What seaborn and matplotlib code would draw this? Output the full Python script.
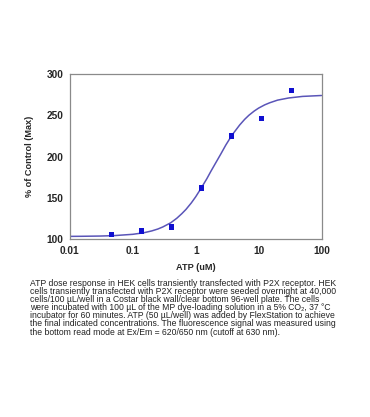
import numpy as np
import pandas as pd
import matplotlib
matplotlib.use("Agg")
import matplotlib.pyplot as plt
import seaborn as sns
from matplotlib.ticker import LogLocator, NullFormatter, MultipleLocator

# measured points
atp_conc = [0.0457, 0.137, 0.41, 1.23, 3.7, 11.1, 33.3]
pct_control = [106, 110, 115, 162, 225, 246, 280]

# fitted curve
curve_x = [0.01, 0.015, 0.03, 0.05, 0.1, 0.15, 0.2, 0.25, 0.3, 0.4, 0.5, 0.6, 0.7,
           0.85, 1.0, 1.2, 1.5, 1.75, 2.0, 2.5, 3.0, 3.5, 4.0, 5.0, 6.0, 7.0,
           8.5, 10, 12.5, 15, 20, 30, 50, 100]
curve_y = [103.6, 103.7, 104.0, 104.5, 106.1, 108.0, 110.2, 112.5, 115.0, 120.0,
           125.5, 131.0, 136.2, 144.0, 151.5, 161.0, 173.2, 182.5, 190.2, 203.0,
           213.8, 222.0, 228.5, 238.2, 245.0, 249.9, 255.0, 258.6, 262.5, 265.0,
           268.2, 270.8, 272.7, 273.8]

x_ticks = [0.01, 0.1, 1, 10, 100]
x_ticklabels = ["0.01", "0.1", "1", "10", "100"]
y_ticks = [100, 150, 200, 250, 300]

caption = [
    "ATP dose response in HEK cells transiently transfected with P2X receptor. HEK",
    "cells transiently transfected with P2X receptor were seeded overnight at 40,000",
    "cells/100 \u00b5L/well in a Costar black wall/clear bottom 96-well plate. The cells",
    "were incubated with 100 \u00b5L of the MP dye-loading solution in a 5% CO\u2082, 37 \u00b0C",
    "incubator for 60 minutes. ATP (50 \u00b5L/well) was added by FlexStation to achieve",
    "the final indicated concentrations. The fluorescence signal was measured using",
    "the bottom read mode at Ex/Em = 620/650 nm (cutoff at 630 nm).",
]

sns.set_style("white")
plt.rcParams["font.family"] = ["Liberation Sans", "DejaVu Sans"]

pts = pd.DataFrame({"x": atp_conc, "y": pct_control})
fit = pd.DataFrame({"x": curve_x, "y": curve_y})

fig = plt.figure(figsize=(3.7, 4.17), dpi=100)
ax = fig.add_axes([0.189, 0.426, 0.68, 0.397])

sns.lineplot(data=fit, x="x", y="y", ax=ax, color="#5a55b8", linewidth=1.1)
sns.scatterplot(data=pts, x="x", y="y", ax=ax, marker="s", s=16,
                color="#1010d0", edgecolor="none", zorder=3)

ax.set_xscale("log")
ax.set_xlim(0.01, 100)
ax.set_ylim(100, 300)
ax.set_xticks(x_ticks)
ax.set_xticklabels(x_ticklabels)
ax.xaxis.set_minor_locator(LogLocator(base=10, subs=np.arange(2, 10)))
ax.xaxis.set_minor_formatter(NullFormatter())
ax.set_yticks(y_ticks)
ax.yaxis.set_minor_locator(MultipleLocator(25))

for s in ax.spines.values():
    s.set_color("#8a8a8a")
    s.set_linewidth(0.9)

ax.tick_params(axis="both", which="major", direction="out", length=3, width=0.8,
               color="#8a8a8a", labelsize=7.3, pad=1.5)
ax.tick_params(axis="x", which="minor", direction="in", length=2, width=0.6,
               color="#8a8a8a")
ax.tick_params(axis="y", which="minor", direction="out", length=2, width=0.6,
               color="#8a8a8a")
for lab in ax.get_xticklabels() + ax.get_yticklabels():
    lab.set_fontweight("bold")

ax.set_xlabel("ATP (uM)", fontsize=6.6, fontweight="bold", labelpad=5)
ax.set_ylabel("% of Control (Max)", fontsize=6.6, fontweight="bold", labelpad=9)

y0 = 1 - 283 / 417
for i, line in enumerate(caption):
    fig.text(30 / 370, y0 - i * 8.2 / 417, line, fontsize=6.2, ha="left",
             va="center", color="#222222")

fig.savefig("out.png", dpi=100, facecolor="white")
